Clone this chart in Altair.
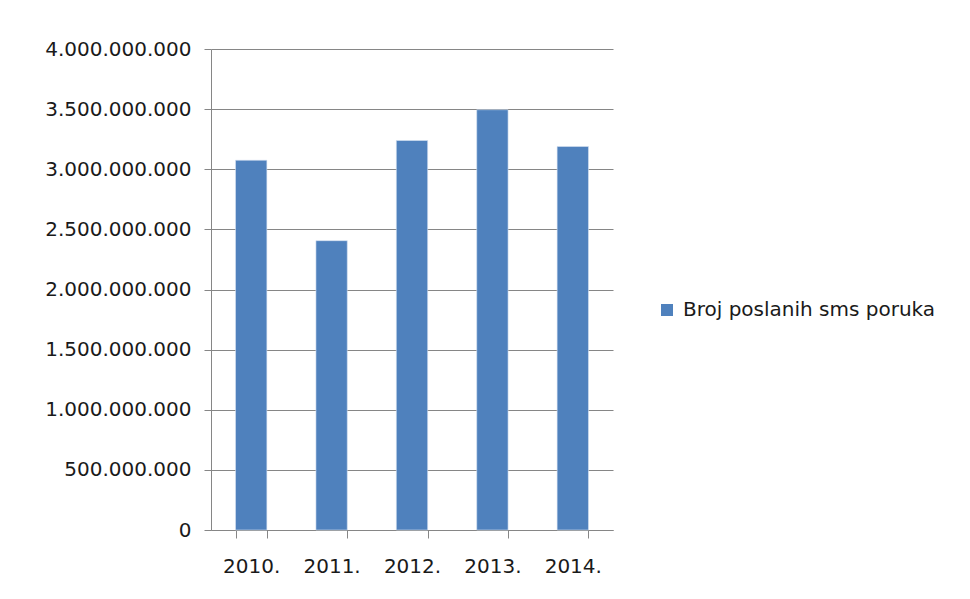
import altair as alt
import pandas as pd

years = ["2010.", "2011.", "2012.", "2013.", "2014."]
values = [3075000000, 2406000000, 3239000000, 3495000000, 3189000000]
series = ["Broj poslanih sms poruka"] * 5

df = pd.DataFrame({"year": years, "value": values, "series": series})

FONT = "DejaVu Sans"
FS = 20
TXT = "#1a1a1a"
label_expr = "replace(format(datum.value, ','), regexp(',', 'g'), '.')"

chart = alt.Chart(df).mark_bar(color="#4f81bd", stroke="#d6e2f1", strokeWidth=0.6).encode(
    x=alt.X("year:N", title=None, sort=years,
            scale=alt.Scale(paddingInner=0.61, paddingOuter=0.305),
            axis=alt.Axis(labelAngle=0, tickBand="extent", tickSize=8, labelPadding=18,
                          domainColor="#868686", tickColor="#868686", grid=False,
                          labelFont=FONT, labelFontSize=FS, labelColor=TXT)),
    y=alt.Y("value:Q", title=None,
            scale=alt.Scale(domain=[0, 4000000000]),
            axis=alt.Axis(values=[i * 500000000 for i in range(9)], labelExpr=label_expr,
                          tickSize=7, labelPadding=13, domainColor="#868686",
                          tickColor="#868686", gridColor="#868686", gridWidth=1,
                          labelFont=FONT, labelFontSize=FS, labelColor=TXT)),
    color=alt.Color("series:N", scale=alt.Scale(range=["#4f81bd"]),
                    legend=alt.Legend(title=None, symbolType="square", symbolSize=144,
                                      symbolStrokeWidth=0, orient="none",
                                      legendX=446, legendY=251, labelOffset=6,
                                      labelFontSize=FS, labelFont=FONT, labelColor=TXT,
                                      labelLimit=400)),
).properties(
    width=402, height=481,
    padding={"left": 36, "top": 31, "right": 10, "bottom": 10},
    background="white",
).configure_view(stroke=None)

chart.save("out.html", embed_options={"renderer": "svg", "actions": False})
